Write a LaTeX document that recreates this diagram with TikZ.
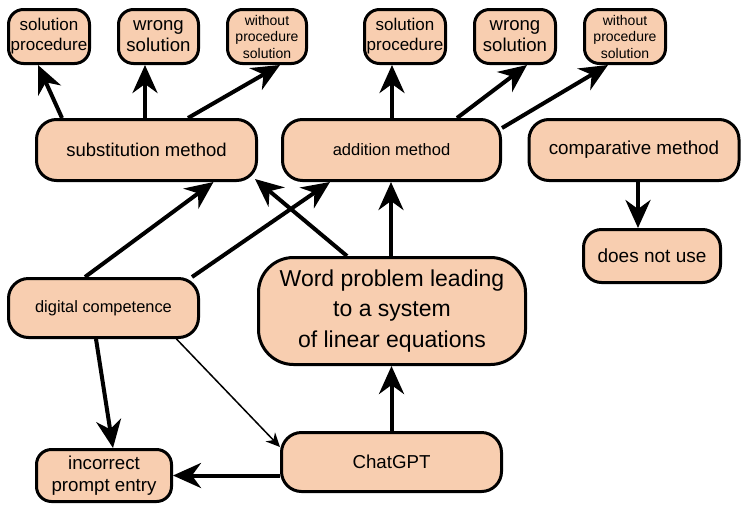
\documentclass[tikz,border=0pt]{standalone}
\usepackage{fontspec}
\setmainfont{Liberation Sans}
\usetikzlibrary{arrows.meta,calc}
\definecolor{peach}{RGB}{248,206,176}
\tikzset{
  box/.style={draw=black, line width=3pt, fill=peach, rounded corners=#1,
    inner sep=0pt, align=center, text=black},
  box/.default=15pt,
  arr/.style={line width=4pt, -{Stealth[length=28pt,width=25pt,inset=9pt]}},
  thinarr/.style={line width=1.5pt, -{Stealth[length=14pt,width=13pt,inset=4.5pt]}},
  fsp/.style={font=\fontsize{17}{20}\selectfont},
  fws/.style={font=\fontsize{18.6}{21}\selectfont},
  fwp/.style={font=\fontsize{14}{16.5}\selectfont},
}
\begin{document}
\begin{tikzpicture}[x=1pt,y=-1pt]
\useasboundingbox (0,0) rectangle (742,504);
% top row left
\node[box, fsp, minimum width=81pt, minimum height=54pt] (sp1) at (49,36.5) {solution\\procedure};
\node[box, fws, minimum width=80pt, minimum height=54pt] (ws1) at (158.5,36.5) {wrong\\solution};
\node[box, fwp, minimum width=79pt, minimum height=54pt] (wp1) at (267,36.5) {without\\procedure\\solution};
% top row right
\node[box, fsp, minimum width=81pt, minimum height=54pt] (sp2) at (405,36.5) {solution\\procedure};
\node[box, fws, minimum width=81pt, minimum height=54pt] (ws2) at (515,36.5) {wrong\\solution};
\node[box, fwp, minimum width=81pt, minimum height=54pt] (wp2) at (625,36.5) {without\\procedure\\solution};
% methods
\node[box=20pt, font=\fontsize{18.5}{22}\selectfont, minimum width=220pt, minimum height=61pt] (sub) at (146.5,150) {substitution method};
\node[box=20pt, font=\fontsize{16.5}{20}\selectfont, minimum width=218pt, minimum height=61pt] (add) at (391.5,150) {addition method};
\node[box=20pt, font=\fontsize{18.8}{22}\selectfont, minimum width=210pt, minimum height=61pt] (comp) at (634,150) {comparative method};
\node[box=18pt, font=\fontsize{19}{22}\selectfont, minimum width=137pt, minimum height=53pt] (dnu) at (652,256) {does not use};
% middle
\node[box=20pt, font=\fontsize{16.4}{20}\selectfont, minimum width=190pt, minimum height=59pt] (dig) at (103.5,308) {digital competence};
\node[box=35pt, font=\fontsize{23}{30.5}\selectfont, minimum width=267pt, minimum height=107pt] (word) at (392,311) {Word problem leading\\to a system\\of linear equations};
% bottom
\node[box=20pt, font=\fontsize{18.7}{22}\selectfont, minimum width=220pt, minimum height=59pt] (chat) at (391.5,462) {ChatGPT};
\node[box, font=\fontsize{18.7}{22}\selectfont, minimum width=135pt, minimum height=52pt] (inc) at (104,475.5) {incorrect\\prompt entry};
% connectors
\draw[arr] ([xshift=-84.5pt]sub.north) -- ([xshift=-11pt]sp1.south);
\draw[arr] ([xshift=-1.5pt]sub.north) -- ([xshift=-13.5pt]ws1.south);
\draw[arr] ([xshift=41.5pt]sub.north) -- ([xshift=13pt]wp1.south);
\draw[arr] ([xshift=0.5pt]add.north) -- ([xshift=-13pt]sp2.south);
\draw[arr] ([xshift=65.5pt]add.north) -- ([xshift=12pt]ws2.south);
\draw[arr] ([yshift=22pt]add.east) -- ([xshift=-17pt]wp2.south);
\draw[arr] ([xshift=4pt]comp.south) -- ([xshift=-14pt]dnu.north);
\draw[arr] ([xshift=-18.5pt]dig.north) -- ([xshift=67pt]sub.south);
\draw[arr] ([xshift=88.5pt]dig.north) -- ([xshift=-61.5pt]add.south);
\draw[arr] ([xshift=-45pt]word.north) -- ([xshift=-3pt,yshift=3pt]sub.south east);
\draw[arr] ([xshift=-1pt]word.north) -- ([xshift=-0.5pt]add.south);
\draw[arr] (chat.north) -- (chat.north |- word.south);
\draw[arr] ([xshift=-7.5pt]dig.south) -- ([xshift=9pt]inc.north);
\draw[thinarr] ([xshift=-23.5pt]dig.south east) -- ([yshift=15pt]chat.west);
\draw[arr] (inc.east -| chat.west) -- (inc.east);
\end{tikzpicture}
\end{document}
